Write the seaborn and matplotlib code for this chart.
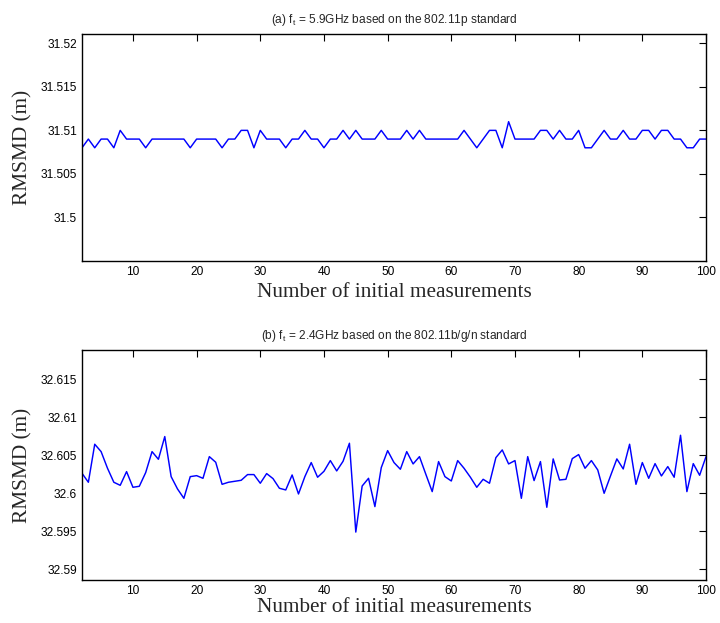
import numpy as np
import pandas as pd
import matplotlib
matplotlib.use("Agg")
import matplotlib.pyplot as plt
import seaborn as sns

# ---- data ----
x_vals = list(range(2, 101))

rmsmd_a = [
    31.508, 31.509, 31.508, 31.509, 31.509, 31.508, 31.510, 31.509, 31.509, 31.509,  # 2-11
    31.508, 31.509, 31.509, 31.509, 31.509, 31.509, 31.509, 31.508, 31.509, 31.509,  # 12-21
    31.509, 31.509, 31.508, 31.509, 31.509, 31.510, 31.510, 31.508, 31.510, 31.509,  # 22-31
    31.509, 31.509, 31.508, 31.509, 31.509, 31.510, 31.509, 31.509, 31.508, 31.509,  # 32-41
    31.509, 31.510, 31.509, 31.510, 31.509, 31.509, 31.509, 31.510, 31.509, 31.509,  # 42-51
    31.509, 31.510, 31.509, 31.510, 31.509, 31.509, 31.509, 31.509, 31.509, 31.509,  # 52-61
    31.510, 31.509, 31.508, 31.509, 31.510, 31.510, 31.508, 31.511, 31.509, 31.509,  # 62-71
    31.509, 31.509, 31.510, 31.510, 31.509, 31.510, 31.509, 31.509, 31.510, 31.508,  # 72-81
    31.508, 31.509, 31.510, 31.509, 31.509, 31.510, 31.509, 31.509, 31.510, 31.510,  # 82-91
    31.509, 31.510, 31.510, 31.509, 31.509, 31.508, 31.508, 31.509, 31.509,          # 92-100
]

rmsmd_b = [
    32.60263, 32.60145, 32.60645, 32.60548, 32.60330, 32.60145, 32.60105, 32.60285, 32.60079, 32.60092,  # 2-11
    32.60272, 32.60548, 32.60447, 32.60746, 32.60219, 32.60057, 32.59934, 32.60219, 32.60232, 32.60197,  # 12-21
    32.60482, 32.60408, 32.60118, 32.60145, 32.60158, 32.60171, 32.60246, 32.60246, 32.60132, 32.60259,  # 22-31
    32.60193, 32.60066, 32.60044, 32.60241, 32.59991, 32.60219, 32.60404, 32.60211, 32.60289, 32.60430,  # 32-41
    32.60294, 32.60421, 32.60658, 32.59490, 32.60096, 32.60197, 32.59825, 32.60338, 32.60561, 32.60404,  # 42-51
    32.60316, 32.60548, 32.60386, 32.60482, 32.60250, 32.60022, 32.60417, 32.60219, 32.60162, 32.60430,  # 52-61
    32.60329, 32.60211, 32.60079, 32.60184, 32.60132, 32.60469, 32.60570, 32.60386, 32.60430, 32.59934,  # 62-71
    32.60482, 32.60167, 32.60417, 32.59816, 32.60452, 32.60175, 32.60184, 32.60456, 32.60509, 32.60329,  # 72-81
    32.60430, 32.60307, 32.60000, 32.60228, 32.60452, 32.60320, 32.60645, 32.60118, 32.60404, 32.60197,  # 82-91
    32.60390, 32.60228, 32.60351, 32.60211, 32.60763, 32.60022, 32.60390, 32.60237, 32.60482,            # 92-100
]

xticks = [10, 20, 30, 40, 50, 60, 70, 80, 90, 100]
yticks_a = [31.5, 31.505, 31.51, 31.515, 31.52]
yticks_b = [32.59, 32.595, 32.6, 32.605, 32.61, 32.615]
ytick_labels_a = ["31.5", "31.505", "31.51", "31.515", "31.52"]
ytick_labels_b = ["32.59", "32.595", "32.6", "32.605", "32.61", "32.615"]

title_a = r"(a) f$_{t}$ = 5.9GHz based on the 802.11p standard"
title_b = r"(b) f$_{t}$ = 2.4GHz based on the 802.11b/g/n standard"
xlabel = "Number of initial measurements"
ylabel = "RMSMD (m)"

# ---- style ----
sns.set_style("white")
plt.rcParams["font.family"] = ["Liberation Sans", "DejaVu Sans"]
plt.rcParams["mathtext.default"] = "regular"

df_a = pd.DataFrame({"n": x_vals, "rmsmd": rmsmd_a})
df_b = pd.DataFrame({"n": x_vals, "rmsmd": rmsmd_b})

fig = plt.figure(figsize=(7.2, 6.23), dpi=100)
W, H = 720.0, 623.0
ax_a = fig.add_axes([82 / W, (H - 261) / H, 624 / W, 227.3 / H])
ax_b = fig.add_axes([82 / W, (H - 580) / H, 624 / W, 229.7 / H])

panels = [
    (ax_a, df_a, title_a, yticks_a, ytick_labels_a, (31.495, 31.5211), 4),
    (ax_b, df_b, title_b, yticks_b, ytick_labels_b, (32.5886, 32.6188), 1),
]

for ax, df, title, yt, ytl, ylim, lpad in panels:
    sns.lineplot(data=df, x="n", y="rmsmd", ax=ax, color="#0000ff", linewidth=1.05)
    ax.set_xlim(2, 100)
    ax.set_ylim(*ylim)
    ax.set_xticks(xticks)
    ax.set_xticklabels([str(v) for v in xticks])
    ax.set_yticks(yt)
    ax.set_yticklabels(ytl)
    ax.tick_params(axis="both", which="major", direction="in", length=5, width=0.8,
                   top=True, right=True, labelsize=8.6, colors="black", pad=3.5)
    for sp in ax.spines.values():
        sp.set_visible(True)
        sp.set_color("black")
        sp.set_linewidth(1.0)
    ax.set_xlabel(xlabel, fontsize=15.3, family=["Liberation Serif", "DejaVu Serif"], labelpad=lpad)
    ax.set_ylabel(ylabel, fontsize=15.3, family=["Liberation Serif", "DejaVu Serif"], labelpad=6)
    ax.set_title(title, fontsize=8.6, pad=8)
    ax.grid(False)

fig.savefig("out.png", dpi=100)
